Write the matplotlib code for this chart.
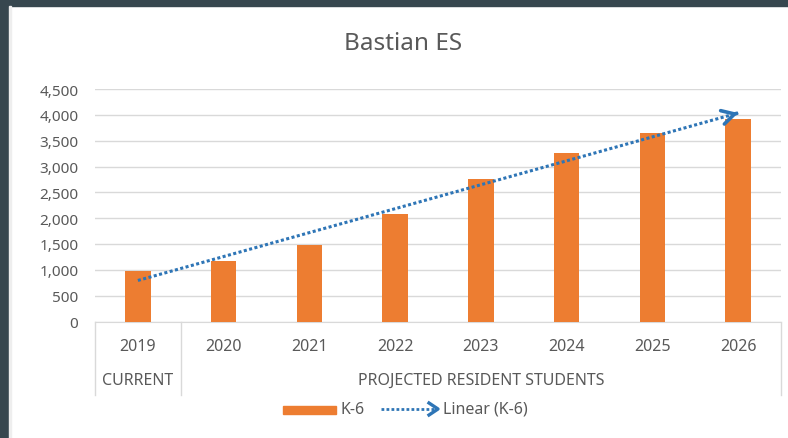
import matplotlib.pyplot as plt
from matplotlib.patches import Rectangle
from matplotlib.lines import Line2D
import numpy as np

# values
years = ["2019", "2020", "2021", "2022", "2023", "2024", "2025", "2026"]
k6 = [980, 1180, 1490, 2090, 2750, 3260, 3650, 3920]
groups = ["CURRENT", "PROJECTED RESIDENT STUDENTS"]
group_sizes = [1, 7]
yticks = [0, 500, 1000, 1500, 2000, 2500, 3000, 3500, 4000, 4500]

W, H = 788, 439
ORANGE = "#ED7D31"
BLUE = "#2E75B6"
GRID = "#D9D9D9"
TXT = "#595959"
DARK = "#37474F"

plt.rcParams["font.family"] = ["Noto Sans", "DejaVu Sans"]

fig = plt.figure(figsize=(W / 100, H / 100), dpi=100)


def px(x, y):
    # figure pixel (from top-left) -> figure fraction
    return x / W, 1 - y / H


# plot area: x 95..781, y 90..322.5 (pixels)
ax_left, ax_top = px(95, 90)
ax_right, ax_bot = px(781, 322.5)
ax = fig.add_axes([ax_left, ax_bot, ax_right - ax_left, ax_top - ax_bot])

x = np.arange(len(years))
ax.bar(x, k6, width=0.30, color=ORANGE, zorder=3)

# linear trend
coef = np.polyfit(x, k6, 1)
trend = np.polyval(coef, x)
ax.plot(x, trend, color=BLUE, lw=2.2, linestyle=(0, (1, 0.8)),
        dash_capstyle="butt", zorder=4)
ax.annotate("", xy=(x[-1], trend[-1]),
            xytext=(x[-1] - 0.05, trend[-1] - coef[0] * 0.05),
            arrowprops=dict(arrowstyle="->,head_length=0.9,head_width=0.5",
                            color=BLUE, lw=2.6, mutation_scale=10),
            zorder=5)

ax.set_xlim(-0.5, len(years) - 0.5)
ax.set_ylim(0, 4500)
ax.set_yticks(yticks)
ax.set_yticklabels([f"{v:,}" for v in yticks])
ax.yaxis.grid(True, color=GRID, lw=1)
ax.set_axisbelow(True)
for s in ["top", "right", "left"]:
    ax.spines[s].set_visible(False)
ax.spines["bottom"].set_color(GRID)
ax.tick_params(axis="y", length=0, pad=12, labelsize=11, labelcolor=TXT)
ax.set_xticks([])

# multi-level category labels
tr = ax.get_xaxis_transform()
row1 = -(347 - 322.5) / 232.5
row2 = -(381 - 322.5) / 232.5
line_end = -(396 - 322.5) / 232.5
for xi, yr in zip(x, years):
    ax.text(xi, row1, yr, transform=tr, ha="center", va="center",
            fontsize=11.5, color=TXT)
start = -0.5
edges = [start]
for g, n in zip(groups, group_sizes):
    ax.text(start + n / 2, row2, g, transform=tr, ha="center", va="center",
            fontsize=11.5, color=TXT)
    start += n
    edges.append(start)
for e in edges:
    ax.plot([e, e], [0, line_end], transform=tr, color=GRID, lw=1,
            clip_on=False)

# title
tx, ty = px(403, 44)
fig.text(tx, ty, "Bastian ES", ha="center", va="center", fontsize=17.5,
         color=TXT)

# legend drawn by hand
x0, y0 = px(283, 414.5)
x1, y1 = px(336, 406.5)
fig.patches.append(Rectangle((x0, y0), x1 - x0, y1 - y0, color=ORANGE,
                             transform=fig.transFigure))
lx, ly = px(340, 410)
fig.text(lx, ly, "K-6", ha="left", va="center", fontsize=11.5, color=TXT)
a0 = px(381, 410)
a1 = px(438, 410)
fig.add_artist(Line2D([a0[0], a1[0] - 0.004], [a0[1], a1[1]],
                      transform=fig.transFigure, color=BLUE, lw=2.0,
                      linestyle=(0, (1, 0.8)), dash_capstyle="butt"))
fig.add_artist(Line2D([px(429, 404)[0], a1[0], px(429, 416)[0]],
                      [px(429, 404)[1], a1[1], px(429, 416)[1]],
                      transform=fig.transFigure, color=BLUE, lw=2.4))
lx, ly = px(443, 410)
fig.text(lx, ly, "Linear (K-6)", ha="left", va="center", fontsize=11.5,
         color=TXT)

# dark frame on top and left like the screenshot
fig.patches.append(Rectangle((0, px(0, 7)[1]), 1, 7 / H, color=DARK,
                             transform=fig.transFigure))
fig.patches.append(Rectangle((0, 0), 9 / W, 1, color=DARK,
                             transform=fig.transFigure))
fig.patches.append(Rectangle((9 / W, 0), 2 / W, 1 - 7 / H, color="#EEEEEE",
                             transform=fig.transFigure))

fig.savefig("out.png", dpi=100)
